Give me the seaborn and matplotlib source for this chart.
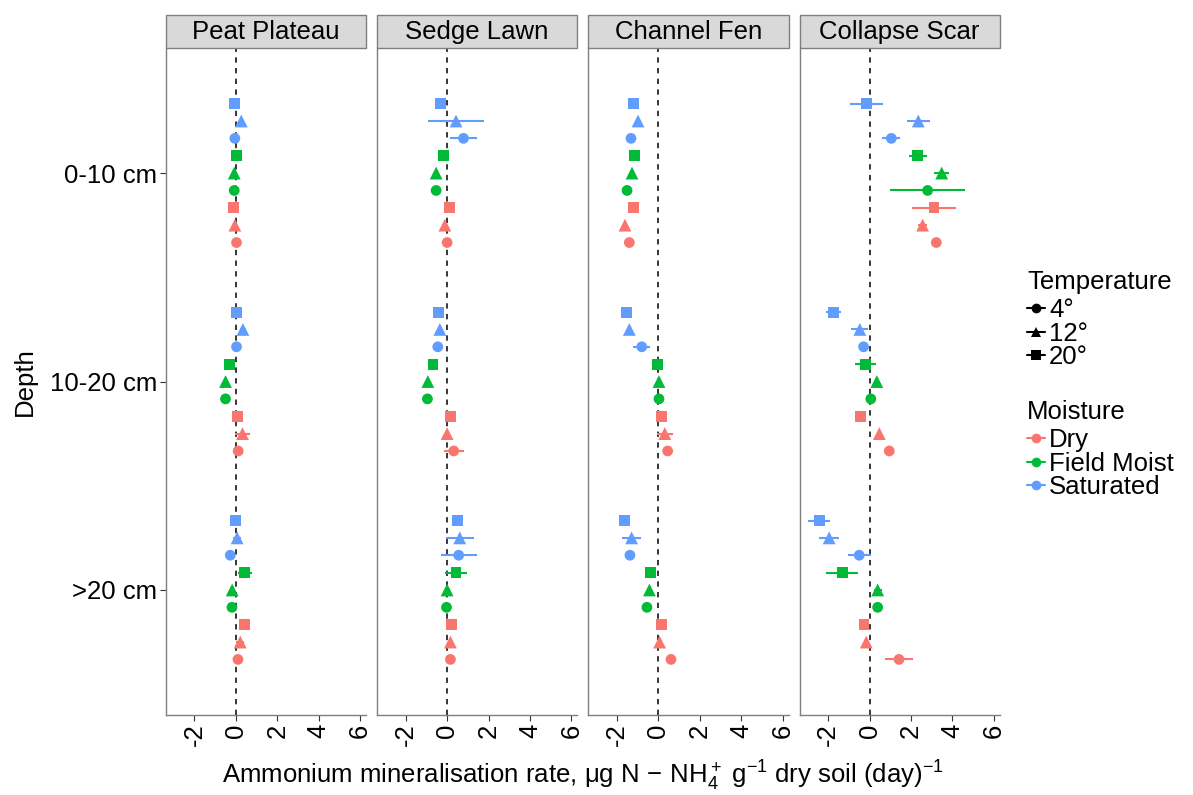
import numpy as np
import pandas as pd
import matplotlib
matplotlib.use("Agg")
import matplotlib.pyplot as plt
from matplotlib.lines import Line2D
from matplotlib.patches import Rectangle
import seaborn as sns

# ---------------- data ----------------
sites = ["Peat Plateau", "Sedge Lawn", "Channel Fen", "Collapse Scar"]
depths = ["0-10 cm", "10-20 cm", ">20 cm"]
moistures = ["Saturated", "Field Moist", "Dry"]          # top -> bottom within a depth
temperatures = ["20°", "12°", "4°"]                       # top -> bottom within a moisture
moisture_colors = {"Dry": "#F8766D", "Field Moist": "#00BA38", "Saturated": "#619CFF"}

# order: depth -> moisture (Sat, FM, Dry) -> temperature (20, 12, 4)
peat_plateau_rate = [-0.05, 0.26, -0.05, 0.03, -0.08, -0.08, -0.11, -0.05, 0.03,
                     0.05, 0.34, 0.03, -0.32, -0.50, -0.50, 0.08, 0.32, 0.11,
                     0.00, 0.06, -0.27, 0.43, -0.18, -0.19, 0.42, 0.21, 0.10]
peat_plateau_err = [0.08, 0.10, 0.08, 0.08, 0.10, 0.08, 0.08, 0.10, 0.08,
                    0.10, 0.15, 0.08, 0.10, 0.10, 0.08, 0.10, 0.35, 0.10,
                    0.10, 0.20, 0.08, 0.35, 0.10, 0.08, 0.10, 0.20, 0.10]
sedge_lawn_rate = [-0.32, 0.43, 0.79, -0.19, -0.53, -0.53, 0.11, -0.11, 0.00,
                   -0.42, -0.35, -0.45, -0.68, -0.93, -0.95, 0.16, 0.00, 0.32,
                   0.48, 0.61, 0.56, 0.43, 0.00, -0.03, 0.21, 0.16, 0.16]
sedge_lawn_err = [0.10, 1.33, 0.64, 0.10, 0.10, 0.08, 0.10, 0.10, 0.08,
                  0.10, 0.10, 0.08, 0.10, 0.10, 0.08, 0.10, 0.10, 0.49,
                  0.10, 0.67, 0.87, 0.55, 0.15, 0.08, 0.10, 0.10, 0.08]
channel_fen_rate = [-1.22, -0.98, -1.32, -1.14, -1.27, -1.51, -1.21, -1.61, -1.40,
                    -1.55, -1.40, -0.80, -0.03, 0.03, 0.03, 0.16, 0.31, 0.45,
                    -1.64, -1.29, -1.37, -0.40, -0.43, -0.55, 0.16, 0.06, 0.61]
channel_fen_err = [0.10, 0.10, 0.08, 0.10, 0.10, 0.08, 0.10, 0.10, 0.08,
                   0.10, 0.10, 0.40, 0.10, 0.10, 0.25, 0.10, 0.38, 0.10,
                   0.10, 0.45, 0.08, 0.10, 0.10, 0.08, 0.10, 0.10, 0.10]
collapse_scar_rate = [-0.14, 2.35, 1.05, 2.32, 3.48, 2.80, 3.11, 2.56, 3.22,
                      -1.74, -0.47, -0.29, -0.18, 0.35, 0.06, -0.42, 0.47, 0.95,
                      -2.43, -1.95, -0.50, -1.32, 0.39, 0.39, -0.27, -0.16, 1.42]
collapse_scar_err = [0.79, 0.56, 0.43, 0.44, 0.37, 1.80, 1.07, 0.20, 0.10,
                     0.38, 0.41, 0.10, 0.51, 0.10, 0.10, 0.20, 0.10, 0.10,
                     0.52, 0.49, 0.55, 0.78, 0.20, 0.10, 0.10, 0.10, 0.66]

site_rates = [peat_plateau_rate, sedge_lawn_rate, channel_fen_rate, collapse_scar_rate]
site_errs = [peat_plateau_err, sedge_lawn_err, channel_fen_err, collapse_scar_err]

rows = []
for s, rates, errs in zip(sites, site_rates, site_errs):
    i = 0
    for d in depths:
        for m in moistures:
            for t in temperatures:
                rows.append(dict(Site=s, Depth=d, Moisture=m, Temperature=t,
                                 rate=rates[i], err=errs[i]))
                i += 1
df = pd.DataFrame(rows)

# dodge positions inside each depth category
dodge_step = 0.0833
df["slot"] = (df["Moisture"].map({m: i for i, m in enumerate(moistures)}) * 3
              + df["Temperature"].map({t: i for i, t in enumerate(temperatures)}) - 4)
df["ypos"] = df["Depth"].map({d: i for i, d in enumerate(depths)}) + df["slot"] * dodge_step

# ---------------- style ----------------
sns.set_theme(style="white")
plt.rcParams["font.family"] = ["Liberation Sans", "DejaVu Sans"]
plt.rcParams["mathtext.fontset"] = "custom"
plt.rcParams["mathtext.rm"] = "Liberation Sans"
plt.rcParams["mathtext.it"] = "Liberation Sans:italic"
plt.rcParams["mathtext.default"] = "rm"
plt.rcParams["text.color"] = "black"
plt.rcParams["xtick.color"] = "#333333"
plt.rcParams["ytick.color"] = "#333333"
plt.rcParams["xtick.labelcolor"] = "black"
plt.rcParams["ytick.labelcolor"] = "black"

FS = 18.5
LFS = 18.5
marker_map = {"4°": "o", "12°": "^", "20°": "s"}
size_map = {"4°": 60, "12°": 85, "20°": 62}


def draw(data, **kw):
    ax = plt.gca()
    ax.axvline(0, color="black", ls=(0, (3.5, 3.5)), lw=1.1, zorder=1)
    for m in moistures:
        sub = data[data["Moisture"] == m]
        ax.hlines(sub["ypos"], sub["rate"] - sub["err"], sub["rate"] + sub["err"],
                  colors=moisture_colors[m], lw=1.5, zorder=2)
    for t in temperatures:
        sub = data[data["Temperature"] == t]
        sns.scatterplot(data=sub, x="rate", y="ypos", hue="Moisture",
                        palette=moisture_colors, marker=marker_map[t],
                        s=size_map[t], linewidth=0, legend=False, ax=ax, zorder=3)


g = sns.FacetGrid(df, col="Site", col_order=sites, sharex=True, sharey=True,
                  height=6.67, aspect=0.3)
g.map_dataframe(draw)
fig = g.figure
fig.set_size_inches(11.93, 7.95)
fig.subplots_adjust(left=0.139, right=0.838, bottom=0.1006, top=0.9396, wspace=0.055)

strip_h = 33 / 667
for ax, s in zip(g.axes.flat, sites):
    ax.set_title("")
    ax.set_xlim(-3.38, 6.28)
    ax.set_ylim(2.6, -0.6)
    ax.set_xticks([-2, 0, 2, 4, 6])
    ax.set_xticklabels(["-2", "0", "2", "4", "6"], rotation=90, fontsize=FS)
    ax.set_yticks([0, 1, 2])
    ax.set_yticklabels(depths, fontsize=FS)
    ax.tick_params(axis="both", which="both", length=4, width=0.8,
                   bottom=True, left=True, pad=2)
    ax.set_xlabel("")
    ax.set_ylabel("")
    for sp in ax.spines.values():
        sp.set_color("#7F7F7F")
        sp.set_linewidth(1.0)
    rect = Rectangle((0, 1), 1, strip_h, transform=ax.transAxes, clip_on=False,
                     facecolor="#D9D9D9", edgecolor="#7F7F7F", lw=1.0)
    ax.add_patch(rect)
    ax.text(0.5, 1 + strip_h / 2, s, transform=ax.transAxes, ha="center",
            va="center", fontsize=FS)

for ax in list(g.axes.flat)[1:]:
    ax.tick_params(axis="y", left=False, labelleft=False)

fig.text(0.021, 0.52, "Depth", rotation=90, ha="center", va="center", fontsize=FS)
fig.text(0.4885, 0.024,
         r"Ammonium mineralisation rate, $\mu$g N$\,-\,$NH$_4^+$ g$^{-1}$ dry soil (day)$^{-1}$",
         ha="center", va="center", fontsize=FS)

# legends
temp_order = ["4°", "12°", "20°"]
temp_handles = [Line2D([0], [0], color="black", marker=marker_map[t], markersize=7,
                       lw=1.5, markeredgewidth=0) for t in temp_order]
leg_kw = dict(loc="upper left", frameon=False, fontsize=LFS, title_fontsize=LFS,
              handlelength=0.7, handletextpad=0.15, labelspacing=-0.03,
              borderaxespad=0, borderpad=0)
leg1 = fig.legend(temp_handles, temp_order, title="Temperature",
                  bbox_to_anchor=(0.861, 0.660), **leg_kw)
leg1._legend_box.align = "left"
leg1._legend_box.sep = 3
moist_order = ["Dry", "Field Moist", "Saturated"]
moist_handles = [Line2D([0], [0], color=moisture_colors[m], marker="o", markersize=7,
                        lw=1.5, markeredgewidth=0) for m in moist_order]
leg2 = fig.legend(moist_handles, moist_order, title="Moisture",
                  bbox_to_anchor=(0.861, 0.4967), **leg_kw)
leg2._legend_box.align = "left"
leg2._legend_box.sep = 3

fig.savefig("out.png", dpi=100)
